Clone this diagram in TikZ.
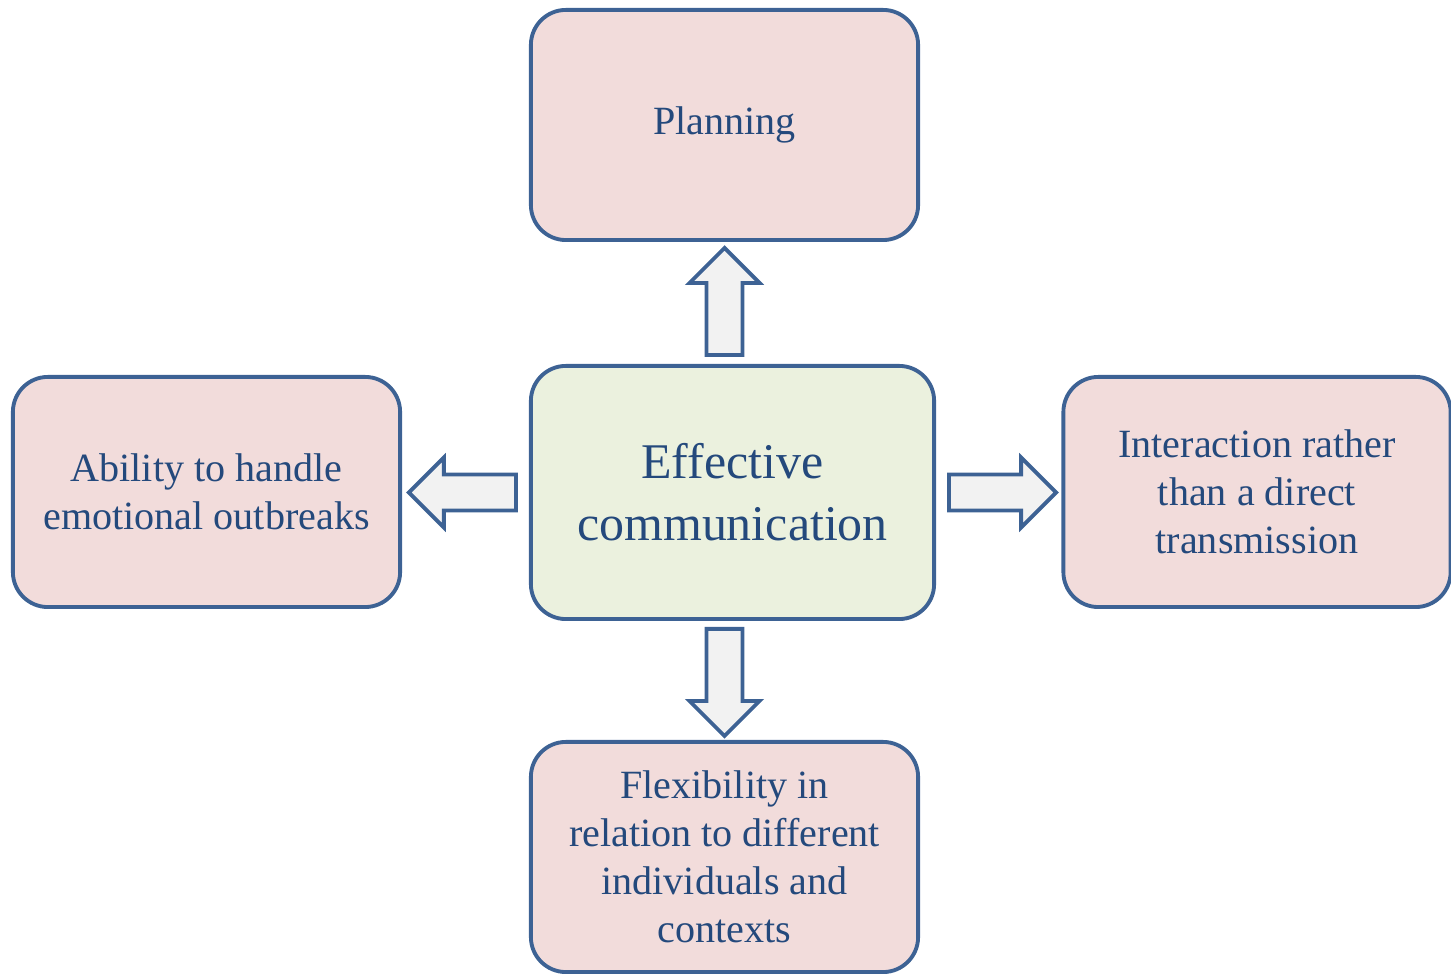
\documentclass[tikz,border=0pt]{standalone}
\usepackage{fontspec}
\setmainfont{Liberation Serif}
\usetikzlibrary{shapes.arrows, positioning, calc}
\definecolor{framblue}{HTML}{3D6294}
\definecolor{inkblue}{HTML}{24497C}
\definecolor{rosefill}{HTML}{F2DCDB}
\definecolor{sagefill}{HTML}{EBF1DE}
\definecolor{arrowfill}{HTML}{F2F2F2}

\begin{document}
\begin{tikzpicture}[x=0.01cm, y=-0.01cm,
  topic/.style={rectangle, rounded corners=0.35cm, fill=rosefill, draw=framblue,
    line width=1.1pt, minimum width=3.87cm, minimum height=2.3cm, align=center,
    text=inkblue, font=\fontsize{11.4}{13.7}\selectfont},
  core/.style={topic, fill=sagefill, minimum width=4.03cm, minimum height=2.53cm,
    font=\fontsize{14.2}{17.6}\selectfont},
  bigarrow/.style={single arrow, fill=arrowfill, draw=framblue, line width=1.1pt,
    inner sep=0.16cm, single arrow head extend=0.17cm,
    minimum height=1.07cm, single arrow tip angle=90}
]
  \useasboundingbox (0,0) rectangle (1451,980);

  % center and the four topics
  \node[core] (comm) at (732.5, 492.5) {Effective\\communication};
  \node[topic] (plan) at (724.5, 125) {Planning};
  \node[topic] (ability) at (206.5, 492) {Ability to handle\\emotional outbreaks};
  \node[topic] (interact) at (1257, 492) {Interaction rather\\than a direct\\transmission};
  \node[topic] (flex) at (724.5, 857) {Flexibility in\\relation to different\\individuals and\\contexts};

  % block arrows from the center
  \node[bigarrow, shape border rotate=90, anchor=tail] (toplan)
    at ($(comm.north -| plan.south)+(0,-7)$) {};
  \node[bigarrow, shape border rotate=180, anchor=tail] (toability)
    at ($(comm.west)+(-11,0)$) {};
  \node[bigarrow, anchor=tail] (tointeract)
    at ($(comm.east)+(11,0)$) {};
  \node[bigarrow, shape border rotate=270, anchor=tail] (toflex)
    at ($(comm.south -| flex.north)+(0,6)$) {};
\end{tikzpicture}
\end{document}
